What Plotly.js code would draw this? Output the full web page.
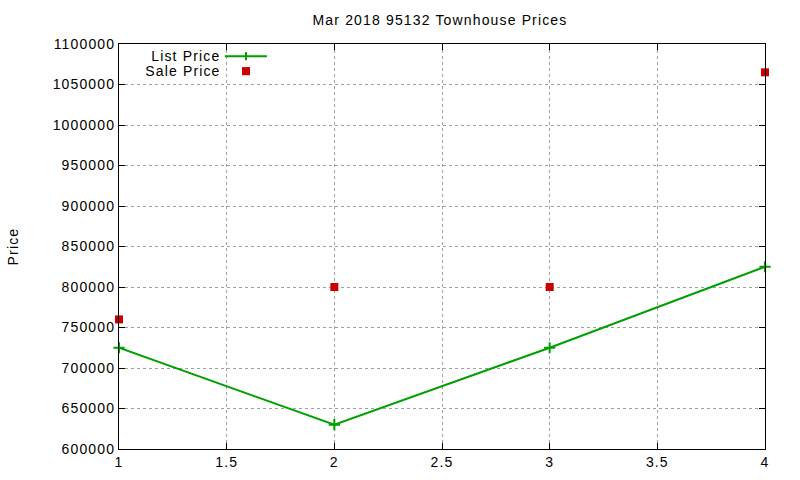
<!DOCTYPE html>
<html>
<head>
<meta charset="utf-8">
<script src="https://cdn.plot.ly/plotly-3.0.1.min.js"></script>
<style>
html,body{margin:0;padding:0;background:#fff;}
#chart{width:800px;height:480px;}
#chart svg text{letter-spacing:1.15px !important;}
</style>
</head>
<body>
<div id="chart"></div>
<script>
const xValues = [1, 2, 3, 4];
const listPrice = [725000, 630000, 725000, 825000];
const salePrice = [760000, 800000, 800000, 1065000];
const xTicks = [1, 1.5, 2, 2.5, 3, 3.5, 4];
const yTicks = [600000, 650000, 700000, 750000, 800000, 850000, 900000, 950000, 1000000, 1050000, 1100000];

const green = '#00a000';
const red = '#cc0000';
const font = {family: 'Liberation Sans, Arial, sans-serif', size: 14, color: '#000'};

const traces = [
  {x: xValues, y: listPrice, name: 'List Price', type: 'scatter', mode: 'lines+markers',
   line: {color: green, width: 2},
   marker: {symbol: 'cross-thin', size: 8, line: {color: green, width: 2}, color: green},
   cliponaxis: false},
  {x: xValues, y: salePrice, name: 'Sale Price', type: 'scatter', mode: 'markers',
   marker: {symbol: 'square', size: 8, color: red}, cliponaxis: false}
];

const axisCommon = {
  showline: true, linecolor: '#000', linewidth: 1, mirror: 'ticks',
  ticks: 'inside', ticklen: 6, tickcolor: '#000', tickwidth: 1,
  showgrid: true, gridcolor: '#a0a0a0', griddash: 'dot', gridwidth: 1,
  zeroline: false, tickfont: font
};

const layout = {
  width: 800, height: 480,
  margin: {l: 119, r: 35, t: 44, b: 31},
  paper_bgcolor: '#fff', plot_bgcolor: '#fff',
  font: font,
  showlegend: false,
  title: {text: 'Mar 2018 95132 Townhouse Prices', font: font, x: 0.55, xanchor: 'center', y: 0.958, yanchor: 'middle'},
  xaxis: Object.assign({}, axisCommon, {range: [1, 4], tickvals: xTicks, ticktext: xTicks.map(String)}),
  yaxis: Object.assign({}, axisCommon, {range: [600000, 1100000], tickvals: yTicks, ticktext: yTicks.map(String)}),
  annotations: [
    {xref: 'paper', yref: 'paper', x: -0.1656, y: 0.5, xanchor: 'center', yanchor: 'middle', textangle: -90, text: 'Price', showarrow: false, font: font},
    {xref: 'paper', yref: 'paper', x: 0.152, y: 0.970, xanchor: 'right', yanchor: 'middle', text: 'List Price', showarrow: false, font: font},
    {xref: 'paper', yref: 'paper', x: 0.152, y: 0.933, xanchor: 'right', yanchor: 'middle', text: 'Sale Price', showarrow: false, font: font}
  ],
  shapes: [
    {type: 'line', xref: 'paper', yref: 'paper', x0: 0.164, x1: 0.229, y0: 0.970, y1: 0.970, line: {color: green, width: 2}},
    {type: 'line', xref: 'paper', yref: 'paper', x0: 0.1966, x1: 0.1966, y0: 0.960, y1: 0.980, line: {color: green, width: 2}},
    {type: 'rect', xref: 'paper', yref: 'paper', x0: 0.1904, x1: 0.2028, y0: 0.923, y1: 0.943, line: {width: 0}, fillcolor: red}
  ]
};

Plotly.newPlot('chart', traces, layout, {displayModeBar: false, staticPlot: true});
</script>
</body>
</html>
